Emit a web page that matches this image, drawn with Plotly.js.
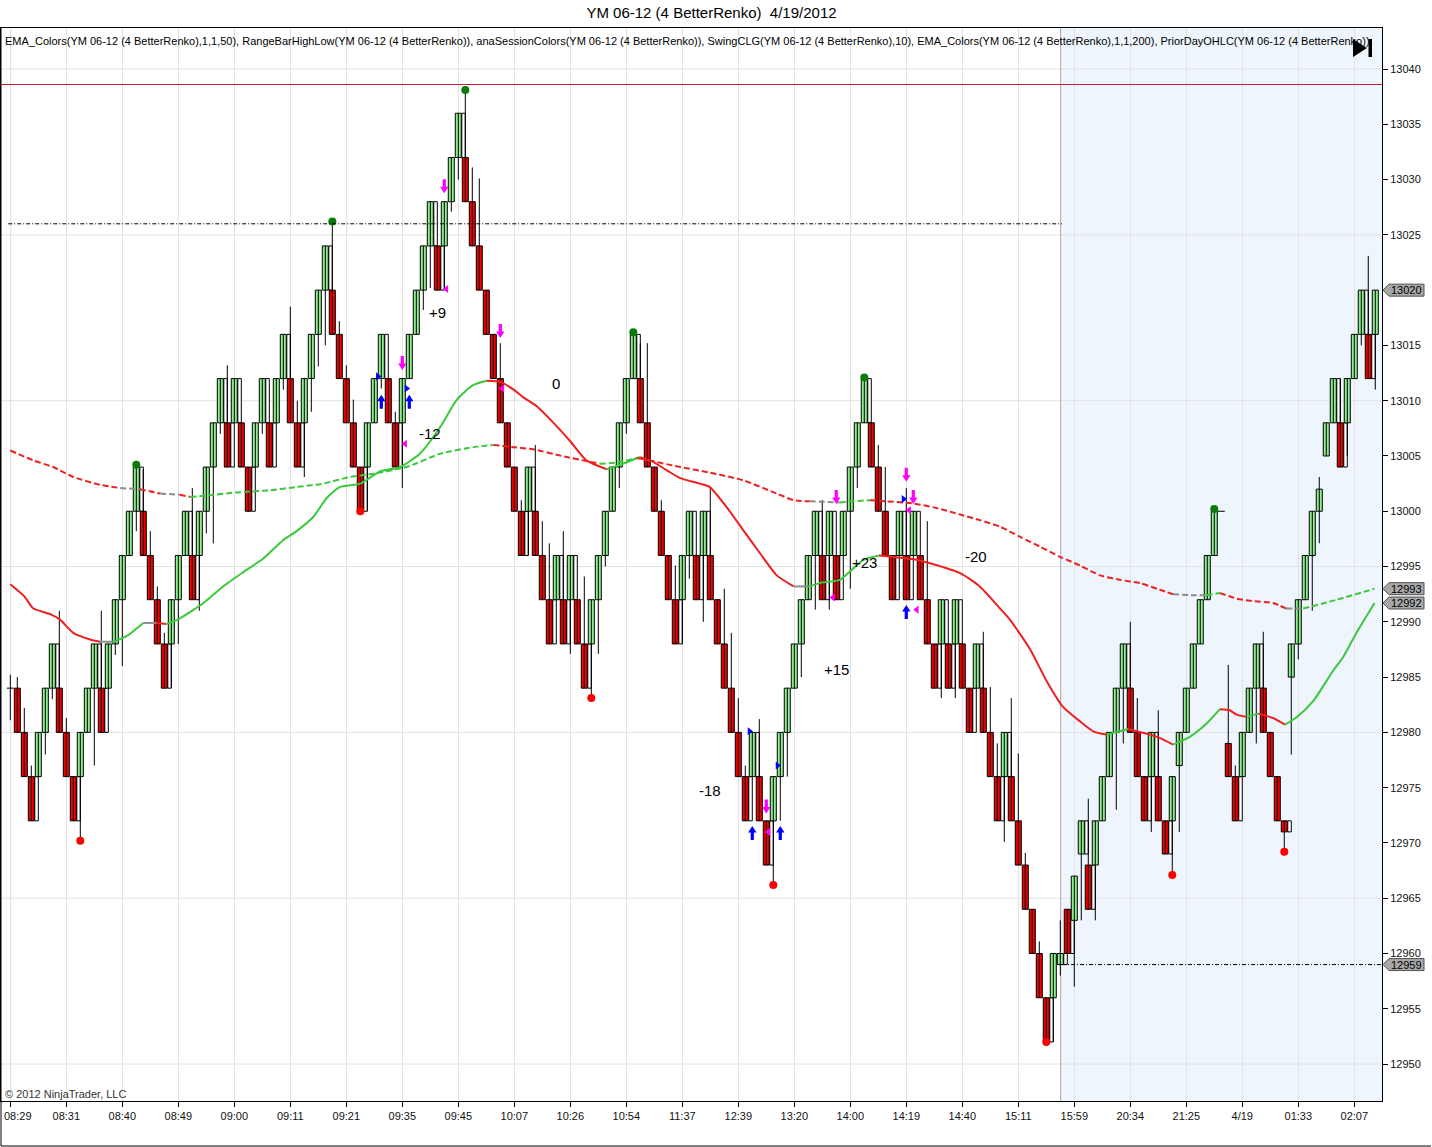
<!DOCTYPE html>
<html><head><meta charset="utf-8">
<script src="https://cdn.plot.ly/plotly-3.0.1.min.js"></script>
<style>html,body{margin:0;padding:0;background:#fff}#chart{width:1432px;height:1147px}</style>
</head><body><div id="chart"></div>
<script>
const chartTitle = 'YM 06-12 (4 BetterRenko)\u00a0 4/19/2012';
const indicatorText = 'EMA_Colors(YM 06-12 (4 BetterRenko),1,1,50), RangeBarHighLow(YM 06-12 (4 BetterRenko)), anaSessionColors(YM 06-12 (4 BetterRenko)), SwingCLG(YM 06-12 (4 BetterRenko),10), EMA_Colors(YM 06-12 (4 BetterRenko),1,1,200), PriorDayOHLC(YM 06-12 (4 BetterRenko))';
const copyrightText = '\u00a9 2012 NinjaTrader, LLC';
const timeLabels = ['08:29','08:31','08:40','08:49','09:00','09:11','09:21','09:35','09:45','10:07','10:26','10:54','11:37','12:39','13:20','14:00','14:19','14:40','15:11','15:59','20:34','21:25','4/19','01:33','02:07'];
const timeLabelBars = [0,8,16,24,32,40,48,56,64,72,80,88,96,104,112,120,128,136,144,152,160,168,176,184,192];

const barOpen = [
12984,12984,12980,12976,12976,12980,12984,12984,12980,12976,
12976,12980,12984,12984,12984,12988,12992,12996,13000,13000,
12996,12992,12988,12988,12992,12996,12996,12996,13000,13004,
13008,13008,13008,13008,13004,13004,13008,13008,13008,13012,
13012,13008,13008,13012,13016,13020,13020,13016,13012,13008,
13004,13004,13008,13012,13012,13008,13008,13012,13016,13020,
13024,13024,13024,13028,13032,13032,13028,13024,13020,13016,
13012,13008,13004,13000,13000,13000,12996,12992,12992,12992,
12992,12992,12988,12988,12992,12996,13000,13004,13008,13012,
13012,13008,13004,13000,12996,12992,12992,12996,12996,12996,
12996,12992,12988,12984,12980,12976,12976,12976,12972,12972,
12976,12980,12984,12988,12992,12996,12996,12996,12996,12996,
13000,13004,13008,13008,13004,13000,12996,12996,12996,12996,
12996,12992,12988,12988,12988,12988,12988,12984,12984,12984,
12980,12976,12976,12976,12972,12968,12964,12960,12956,12956,
12959,12964,12963,12969,12968,12968,12972,12976,12980,12984,
12984,12980,12976,12976,12976,12972,12972,12977,12980,12984,
12988,12992,12996,13000,12979,12976,12976,12980,12984,12984,
12980,12976,12972,12985,12988,12992,12996,13000,13005,13008,
13008,13008,13012,13016,13016,13016];
const barClose = [
12984,12980,12976,12972,12980,12984,12988,12980,12976,12972,
12980,12984,12988,12980,12988,12992,12996,13000,13004,12996,
12992,12988,12984,12992,12996,13000,12992,13000,13004,13008,
13012,13004,13012,13004,13000,13008,13012,13004,13012,13016,
13008,13004,13012,13016,13020,13024,13016,13012,13008,13004,
13000,13008,13012,13016,13008,13004,13012,13016,13020,13024,
13028,13020,13028,13032,13036,13028,13024,13020,13016,13012,
13008,13004,13000,12996,13004,12996,12992,12988,12996,12988,
12996,12988,12984,12992,12996,13000,13004,13008,13012,13016,
13008,13004,13000,12996,12992,12988,12996,13000,12992,13000,
12992,12988,12984,12980,12976,12972,12980,12972,12968,12976,
12980,12984,12988,12992,12996,13000,12992,13000,12992,13000,
13004,13008,13012,13004,13000,12996,12992,13000,12992,13000,
12992,12988,12984,12992,12984,12992,12984,12980,12988,12980,
12976,12972,12980,12972,12968,12964,12960,12956,12952,12960,
12960,12960,12967,12972,12964,12972,12976,12980,12984,12988,
12980,12976,12972,12980,12972,12969,12976,12980,12984,12988,
12992,12996,13000,13000,12976,12972,12980,12984,12988,12980,
12976,12972,12971,12988,12992,12996,13000,13002,13008,13012,
13004,13012,13016,13020,13012,13020];
const barHigh = [
12985.2,12985,12982.2,12977,12980,12984,12988,12991,12981.3,12976,
12980,12984,12988,12991,12988,12992,12996,13000,13004.2,13003.8,
12998.2,12993.2,12989,12992,12996,13000,13002.1,13000,13004,13008,
13012,13013.2,13012,13008,13004,13008,13012,13008,13012,13016,
13018.5,13010,13012,13016,13020,13024,13026.2,13017.2,13013.2,13010.1,
13004,13008,13012,13016,13012,13009,13012,13016,13020,13024,
13028,13024,13028,13032,13036,13038.1,13031.1,13030.1,13020,13016,
13015.2,13008,13004,13001,13004,13006,12999.1,12997.1,12996,12998.2,
12996,12992,12994.1,12992,12996,13000,13004,13008,13012,13016.2,
13015.2,13015.2,13004,13001,12996,12995.1,12996,13000,12996,13000,
13002.2,12992,12993,12989,12983.1,12977,12980,12981.2,12972,12976,
12980,12984,12988,12992,12996,13000,13001,13000,12996,13000,
13004,13008,13012.1,13008,13006,13004,12996,13000,13002.1,13000,
12996,12999.1,12988,12992,12988,12992,12988,12984,12988,12989.1,
12984.1,12979,12980,12983.1,12978.1,12969.1,12964,12961.1,12956,12960,
12963,12964,12967,12972,12974,12972,12976,12980,12984,12988,
12990,12983.1,12976,12980,12982,12972,12976,12980,12984,12988,
12992,12996,13000.2,13000,12986.1,12977,12980,12984,12988,12989.1,
12980,12976,12972,12988,12992,12996,13000,13003.1,13008,13012,
13012,13012,13016,13020,13023.1,13020];
const barLow = [
12981.1,12980,12976,12972,12976,12978,12983,12980,12976,12972,
12970.2,12980,12977,12980,12984,12987,12986,12996,12998.2,12996,
12992,12988,12984,12984.1,12988,12996,12992,12991,12998,12997.1,
13007,13004,13008,13004,13000,13004,13007,13004,13008,13011,
13008,13004,13003.1,13009,13013.1,13015,13016,13012,13008,13004,
13000,13000,13008,13011.1,13008,13004,13002.1,13012,13016,13018.2,
13020.2,13020,13020,13027.1,13030,13028,13024,13020,13016,13012,
13008,13004,13000,12996,12996,12996,12992,12988,12992,12988,
12987.1,12988,12984,12983.1,12987.1,12995,13000,13002.1,13007,13012,
13008,13004,13000,12996,12992,12988,12988,12993.9,12992,12990,
12992,12988,12984,12980,12976,12972,12976,12972,12968,12966.2,
12972,12976,12984,12985,12992,12991.1,12992,12991.1,12992,12996,
12993,13002.1,13008,13004,13000,12996,12992,12996,12992,12996,
12992,12988,12984,12983.1,12984,12983.1,12984,12980,12984,12980,
12976,12972,12970.1,12972,12968,12964,12960,12956,12952,12952,
12958,12960,12957,12963,12964,12963,12972,12976,12973,12979,
12980,12976,12972,12971,12972,12969,12967.1,12971,12980,12984,
12988,12992,12996,13000,12976,12972,12976,12980,12979,12980,
12976,12972,12969.2,12978,12986.6,12992,12991,12997.1,13005,13008,
13004,13005,13012,13015,13012,13011];

const swingHighBars = [18,46,65,89,122,172];
const swingLowBars = [10,50,83,109,148,166,182];
const swingLabelText = ['+9','0','-12','-18','+15','+23','-20'];
const swingLabelBar = [61,78,60,100,118,122,138];
const swingLabelValue = [13018.0,13011.6,13007.0,12974.7,12985.7,12995.4,12995.9];
const downArrowBar = [62,56,70,108,118,128,129];
const downArrowValue = [13029.4,13013.4,13016.3,12973.3,13001.3,13003.3,13001.3];
const upArrowBar = [53,57,106,110,128];
const upArrowValue = [13009.9,13009.9,12970.9,12970.9,12990.9];
const leftMarkBar = [62.3,56.4,108.3,117.5,128.4,129.5,70.3];
const leftMarkValue = [13020.1,13006.1,12971.0,12992.2,13000.1,12991.1,13011.1];
const rightMarkBar = [52.5,56.6,105.6,109.6,127.6];
const rightMarkValue = [13012.2,13011.1,12980.1,12977.0,13001.1];

const emaFastBar = [0,2,3.3,5.7,7.1,9,11.4,12.8,14.7,16.6,19,20.9,22.3,24.2,27.6,30.4,33.3,36.1,39,40.9,43.3,45.2,47.1,50,52.8,55.7,58.5,61.4,63.8,66.1,68.1,70,71.9,73.3,75.2,77.6,79.9,82.3,85.2,87.1,89.5,91.4,93.8,95.7,98.5,99.9,102.3,104.7,107.1,109.5,111.9,114.2,115.6,118.5,120.2,121.9,124.1,127.2,129.6,131.4,135.7,138.5,141.4,142.8,145.7,148,150.4,152.8,154.7,156.6,158.5,159.7,160.9,162.8,164.2,166.1,168.5,170.9,172.8,174.2,175.2,176.6,178.3,180.4,182.1,183.8,186.1,189,190.4,192.3,194.9];
const emaFastValue = [12993.4,12992.3,12991.2,12990.7,12990.2,12989.0,12988.4,12988.2,12988.2,12988.7,12989.9,12989.9,12989.8,12990.3,12991.7,12993.2,12994.5,12995.7,12997.4,12998.2,12999.5,13001.2,13002.2,13002.5,13003.6,13004.0,13005.2,13007.6,13010.1,13011.4,13011.8,13011.7,13011.0,13010.3,13009.5,13008.0,13006.4,13004.6,13003.8,13004.2,13004.8,13004.6,13003.7,13003.0,13002.5,13002.2,13000.4,12998.3,12996.2,12994.2,12993.2,12993.2,12993.5,12993.8,12994.7,12995.6,12996.0,12995.8,12995.6,12995.3,12994.4,12993.2,12991.2,12990.2,12987.5,12984.7,12982.3,12981.0,12980.1,12979.8,12980.1,12980.3,12980.1,12979.8,12979.5,12978.9,12979.6,12980.8,12982.1,12982.0,12981.6,12981.4,12981.7,12981.3,12980.7,12981.4,12982.8,12985.6,12986.8,12989.0,12991.7];
const emaSlowBar = [0,3.3,6.1,9,12.8,15.7,18.5,21.4,24.2,25.7,27.6,32.3,37.1,40.9,44.7,48.5,51.9,56.6,61.4,66.1,69,71.9,74.7,79.5,84.2,86.6,90,91.4,95.7,99.9,104.7,109.5,111.9,114.2,118.5,120.4,122.8,125.2,129,132.3,135.7,138.5,141.4,144.2,147.1,149.9,152.8,155.7,158.5,161.4,164.2,166.1,169,170.9,172.8,175.2,177.1,180.4,182.3,184.7,189.5,194.9];
const emaSlowValue = [13005.5,13004.6,13004.0,13003.1,13002.4,13002.1,13002.0,13001.6,13001.5,13001.3,13001.4,13001.7,13001.9,13002.2,13002.5,13003.1,13003.4,13004.0,13005.2,13005.8,13006.0,13005.8,13005.6,13004.9,13004.3,13004.4,13004.9,13004.6,13004.0,13003.5,13002.8,13001.6,13001.0,13000.9,13000.8,13000.9,13001.0,13000.9,13000.7,13000.3,12999.7,12999.2,12998.6,12997.7,12996.8,12995.9,12995.1,12994.2,12993.8,12993.5,12992.9,12992.5,12992.4,12992.4,12992.6,12992.1,12991.9,12991.7,12991.2,12991.2,12992.0,12993.0];

const priorHighLevel = 13038.6;
const priorSessionLevel = 13026;
const sessionOpenLevel = 12959;
const sessionStartBar = 0.05;
const sessionBreakBar = 150.05;

// ---------- geometry helpers ----------
const W = 1432, H = 1147;
const M = {l: 1, r: 50, t: 28, b: 46};
const PW = W - M.l - M.r, PH = H - M.t - M.b;
const X0 = -1.33, X1 = 195.96, Y0 = 12946.66, Y1 = 13043.71;
const pxX = px => (px - M.l) / PW;
const pxY = py => 1 - (py - M.t) / PH;
const valY = v => (v - Y0) / (Y1 - Y0);
const barPx = (X1 - X0) / PW;
const valPx = (Y1 - Y0) / PH;

const GREEN = '#90ee90', RED = '#ee0000';
const FONT = 'Liberation Sans, Arial, sans-serif';
const traces = [];

// wicks
const wx = [], wy = [];
barOpen.forEach((o, i) => { wx.push(i, i, null); wy.push(barLow[i], barHigh[i], null); });
traces.push({type: 'scatter', mode: 'lines', x: wx, y: wy, line: {color: '#000', width: 1}, hoverinfo: 'skip'});

// reversal ghost boxes
const dir = i => Math.sign(barClose[i] - barOpen[i]);
const gx = [], gb = [], gh = [];
for (let i = 1; i < barOpen.length; i++) {
  if (dir(i) !== 0 && dir(i - 1) !== 0 && dir(i) !== dir(i - 1)) {
    gx.push(i); gb.push(Math.min(barOpen[i - 1], barClose[i - 1])); gh.push(Math.abs(barClose[i - 1] - barOpen[i - 1]));
  }
}
traces.push({type: 'bar', x: gx, y: gh, base: gb, width: 0.5, offset: -0.5,
  marker: {color: '#ffffff', line: {color: '#000', width: 1}}, hoverinfo: 'skip'});

// bodies
const bx = [], bb = [], bh = [], bc = [];
barOpen.forEach((o, i) => {
  const c = barClose[i];
  if (c !== o) { bx.push(i); bb.push(Math.min(o, c)); bh.push(Math.abs(c - o)); bc.push(c > o ? GREEN : RED); }
});
traces.push({type: 'bar', x: bx, y: bh, base: bb, width: 0.86, offset: -0.43,
  marker: {color: bc, line: {color: '#000', width: 1}}, hoverinfo: 'skip'});

// doji ticks
const dx = [], dy = [];
barOpen.forEach((o, i) => { if (barClose[i] === o) { dx.push(i - 0.5, i + 0.5, null); dy.push(o, o, null); } });
traces.push({type: 'scatter', mode: 'lines', x: dx, y: dy, line: {color: '#000', width: 1}, hoverinfo: 'skip'});

// EMA colored runs
function runs(xs, ys, thr) {
  const out = []; let cur = null;
  for (let k = 0; k < xs.length - 1; k++) {
    const s = (ys[k + 1] - ys[k]) / (xs[k + 1] - xs[k]);
    const c = s > thr ? '#3cc83c' : (s < -thr ? '#ee2020' : '#8c8c8c');
    if (!cur || cur.c !== c) { cur = {c, x: [xs[k]], y: [ys[k]]}; out.push(cur); }
    cur.x.push(xs[k + 1]); cur.y.push(ys[k + 1]);
  }
  return out;
}
runs(emaSlowBar, emaSlowValue, 0.04).forEach(r => traces.push({type: 'scatter', mode: 'lines', x: r.x, y: r.y,
  line: {color: r.c, width: 2, dash: '6px,3px', shape: 'spline', smoothing: 0.6}, hoverinfo: 'skip'}));
runs(emaFastBar, emaFastValue, 0.05).forEach(r => traces.push({type: 'scatter', mode: 'lines', x: r.x, y: r.y,
  line: {color: r.c, width: 2, shape: 'spline', smoothing: 0.6}, hoverinfo: 'skip'}));

// swing dots
traces.push({type: 'scatter', mode: 'markers', x: swingHighBars, y: swingHighBars.map(i => barHigh[i]),
  marker: {color: '#0a7a0a', size: 8}, hoverinfo: 'skip'});
traces.push({type: 'scatter', mode: 'markers', x: swingLowBars, y: swingLowBars.map(i => barLow[i]),
  marker: {color: '#ff0000', size: 8}, hoverinfo: 'skip'});
// small triangles
traces.push({type: 'scatter', mode: 'markers', x: leftMarkBar, y: leftMarkValue,
  marker: {color: '#ff00ff', size: 7, symbol: 'triangle-left'}, hoverinfo: 'skip'});
traces.push({type: 'scatter', mode: 'markers', x: rightMarkBar, y: rightMarkValue,
  marker: {color: '#0000ff', size: 7, symbol: 'triangle-right'}, hoverinfo: 'skip'});

// ---------- shapes ----------
const shapes = [];
shapes.push({type: 'rect', xref: 'x', yref: 'paper', x0: sessionBreakBar, x1: X1 + 1, y0: 0, y1: 1,
  fillcolor: '#eef5fd', line: {width: 0}, layer: 'below'});
for (let v = 12950; v <= 13040; v += 15) {
  shapes.push({type: 'line', xref: 'paper', yref: 'y', x0: 0, x1: 1, y0: v, y1: v, line: {color: '#e2e2e2', width: 1}, layer: 'between'});
}
shapes.push({type: 'line', xref: 'x', yref: 'paper', x0: sessionStartBar, x1: sessionStartBar, y0: 0, y1: 1, line: {color: '#b4c8e0', width: 1}, layer: 'between'});
shapes.push({type: 'line', xref: 'x', yref: 'paper', x0: sessionBreakBar, x1: sessionBreakBar, y0: 0, y1: 1, line: {color: '#a8a8a8', width: 1}, layer: 'between'});
shapes.push({type: 'line', xref: 'paper', yref: 'y', x0: 0, x1: 1, y0: priorHighLevel, y1: priorHighLevel, line: {color: '#cc1a3a', width: 1}, layer: 'above'});
shapes.push({type: 'line', xref: 'x', yref: 'y', x0: -0.3, x1: sessionBreakBar + 0.2, y0: priorSessionLevel, y1: priorSessionLevel, line: {color: '#000', width: 1, dash: '4px,2px,1px,2px'}, layer: 'above'});
shapes.push({type: 'line', xref: 'x', yref: 'y', x0: sessionBreakBar + 0.2, x1: X1, y0: sessionOpenLevel, y1: sessionOpenLevel, line: {color: '#000', width: 1, dash: '4px,2px,1px,2px'}, layer: 'above'});

// arrows (data space, sized in pixels)
function arrowPath(bx0, v, down) {
  const pts = [[-1.6,-7],[1.6,-7],[1.6,0.5],[4.2,0.5],[0,7],[-4.2,0.5],[-1.6,0.5]];
  return 'M' + pts.map(p => (bx0 + p[0] * barPx).toFixed(4) + ',' + (v - (down ? 1 : -1) * p[1] * valPx).toFixed(4)).join('L') + 'Z';
}
downArrowBar.forEach((b, k) => shapes.push({type: 'path', xref: 'x', yref: 'y', path: arrowPath(b, downArrowValue[k], true), fillcolor: '#ff00ff', line: {width: 0}, layer: 'above'}));
upArrowBar.forEach((b, k) => shapes.push({type: 'path', xref: 'x', yref: 'y', path: arrowPath(b, upArrowValue[k], false), fillcolor: '#0000ff', line: {width: 0}, layer: 'above'}));

// frame beyond plot
const yb = pxY(1146);
shapes.push({type: 'line', xref: 'paper', yref: 'paper', x0: pxX(1), x1: pxX(1), y0: 1, y1: yb, line: {color: '#000', width: 1}});
shapes.push({type: 'line', xref: 'paper', yref: 'paper', x0: pxX(1), x1: pxX(1431), y0: yb, y1: yb, line: {color: '#000', width: 1}});

// play-end icon
shapes.push({type: 'path', xref: 'paper', yref: 'paper',
  path: `M${pxX(1353)},${pxY(39)}L${pxX(1367)},${pxY(48)}L${pxX(1353)},${pxY(57)}Z`, fillcolor: '#000', line: {width: 0}});
shapes.push({type: 'rect', xref: 'paper', yref: 'paper', x0: pxX(1368.5), x1: pxX(1372), y0: pxY(57), y1: pxY(39), fillcolor: '#000', line: {width: 0}});

// price tags on the axis
const annotations = [];
const tagValues = [barClose[barClose.length - 1], emaSlowValue[emaSlowValue.length - 1], emaFastValue[emaFastValue.length - 1], sessionOpenLevel];
const hh = 6 / PH;
tagValues.forEach(v => {
  const y = valY(v);
  shapes.push({type: 'path', xref: 'paper', yref: 'paper',
    path: `M${pxX(1383)},${y}L${pxX(1389)},${y + hh}L${pxX(1424)},${y + hh}L${pxX(1424)},${y - hh}L${pxX(1389)},${y - hh}Z`,
    fillcolor: '#a8a8a8', line: {color: '#505050', width: 1}});
  annotations.push({xref: 'paper', yref: 'paper', x: pxX(1406.5), y: y, text: String(Math.round(v)), showarrow: false,
    xanchor: 'center', yanchor: 'middle', font: {family: FONT, size: 11, color: '#000'}});
});

annotations.push({xref: 'paper', yref: 'paper', x: pxX(3), y: pxY(41), xanchor: 'left', yanchor: 'middle',
  text: indicatorText, showarrow: false, font: {family: FONT, size: 11, color: '#000'}});
annotations.push({xref: 'paper', yref: 'paper', x: pxX(3), y: pxY(1094), xanchor: 'left', yanchor: 'middle',
  text: copyrightText, showarrow: false, font: {family: FONT, size: 11, color: '#333'}});
swingLabelText.forEach((t, k) => annotations.push({xref: 'x', yref: 'y', x: swingLabelBar[k], y: swingLabelValue[k],
  text: t, showarrow: false, xanchor: 'center', yanchor: 'middle', font: {family: FONT, size: 15, color: '#000'}}));

// first time label kept fully inside the frame (left-anchored)
const shownTickText = timeLabels.map((t, k) => k === 0 ? '' : t);
annotations.push({xref: 'paper', yref: 'paper', x: pxX(2), y: pxY(1116), xanchor: 'left', yanchor: 'middle',
  text: timeLabels[0], showarrow: false, font: {family: FONT, size: 11, color: '#111'}});

const layout = {
  width: W, height: H, margin: {l: M.l, r: M.r, t: M.t, b: M.b, pad: 0},
  paper_bgcolor: '#fff', plot_bgcolor: '#fff', showlegend: false, hovermode: false,
  barmode: 'overlay', bargap: 0,
  title: {text: chartTitle, font: {family: FONT, size: 15, color: '#000'}, x: 711.5 / W, xref: 'container', xanchor: 'center',
    y: 1 - 13 / H, yref: 'container', yanchor: 'middle'},
  xaxis: {range: [X0, X1], tickvals: timeLabelBars, ticktext: shownTickText, ticks: 'outside', ticklen: 5, tickcolor: '#000',
    showline: true, linecolor: '#000', linewidth: 1, mirror: true, showgrid: true, gridcolor: '#e2e2e2', zeroline: false,
    ticklabeloverflow: 'allow', tickfont: {family: FONT, size: 11, color: '#111'}, fixedrange: true},
  yaxis: {range: [Y0, Y1], side: 'right', tick0: 12950, dtick: 5, tickformat: 'd', ticks: 'outside', ticklen: 5, tickcolor: '#000',
    showline: true, linecolor: '#000', linewidth: 1, mirror: true, showgrid: false, zeroline: false,
    ticklabeloverflow: 'allow', tickfont: {family: FONT, size: 11, color: '#111'}, fixedrange: true},
  shapes: shapes, annotations: annotations
};
Plotly.newPlot('chart', traces, layout, {staticPlot: true, displayModeBar: false});
</script></body></html>
